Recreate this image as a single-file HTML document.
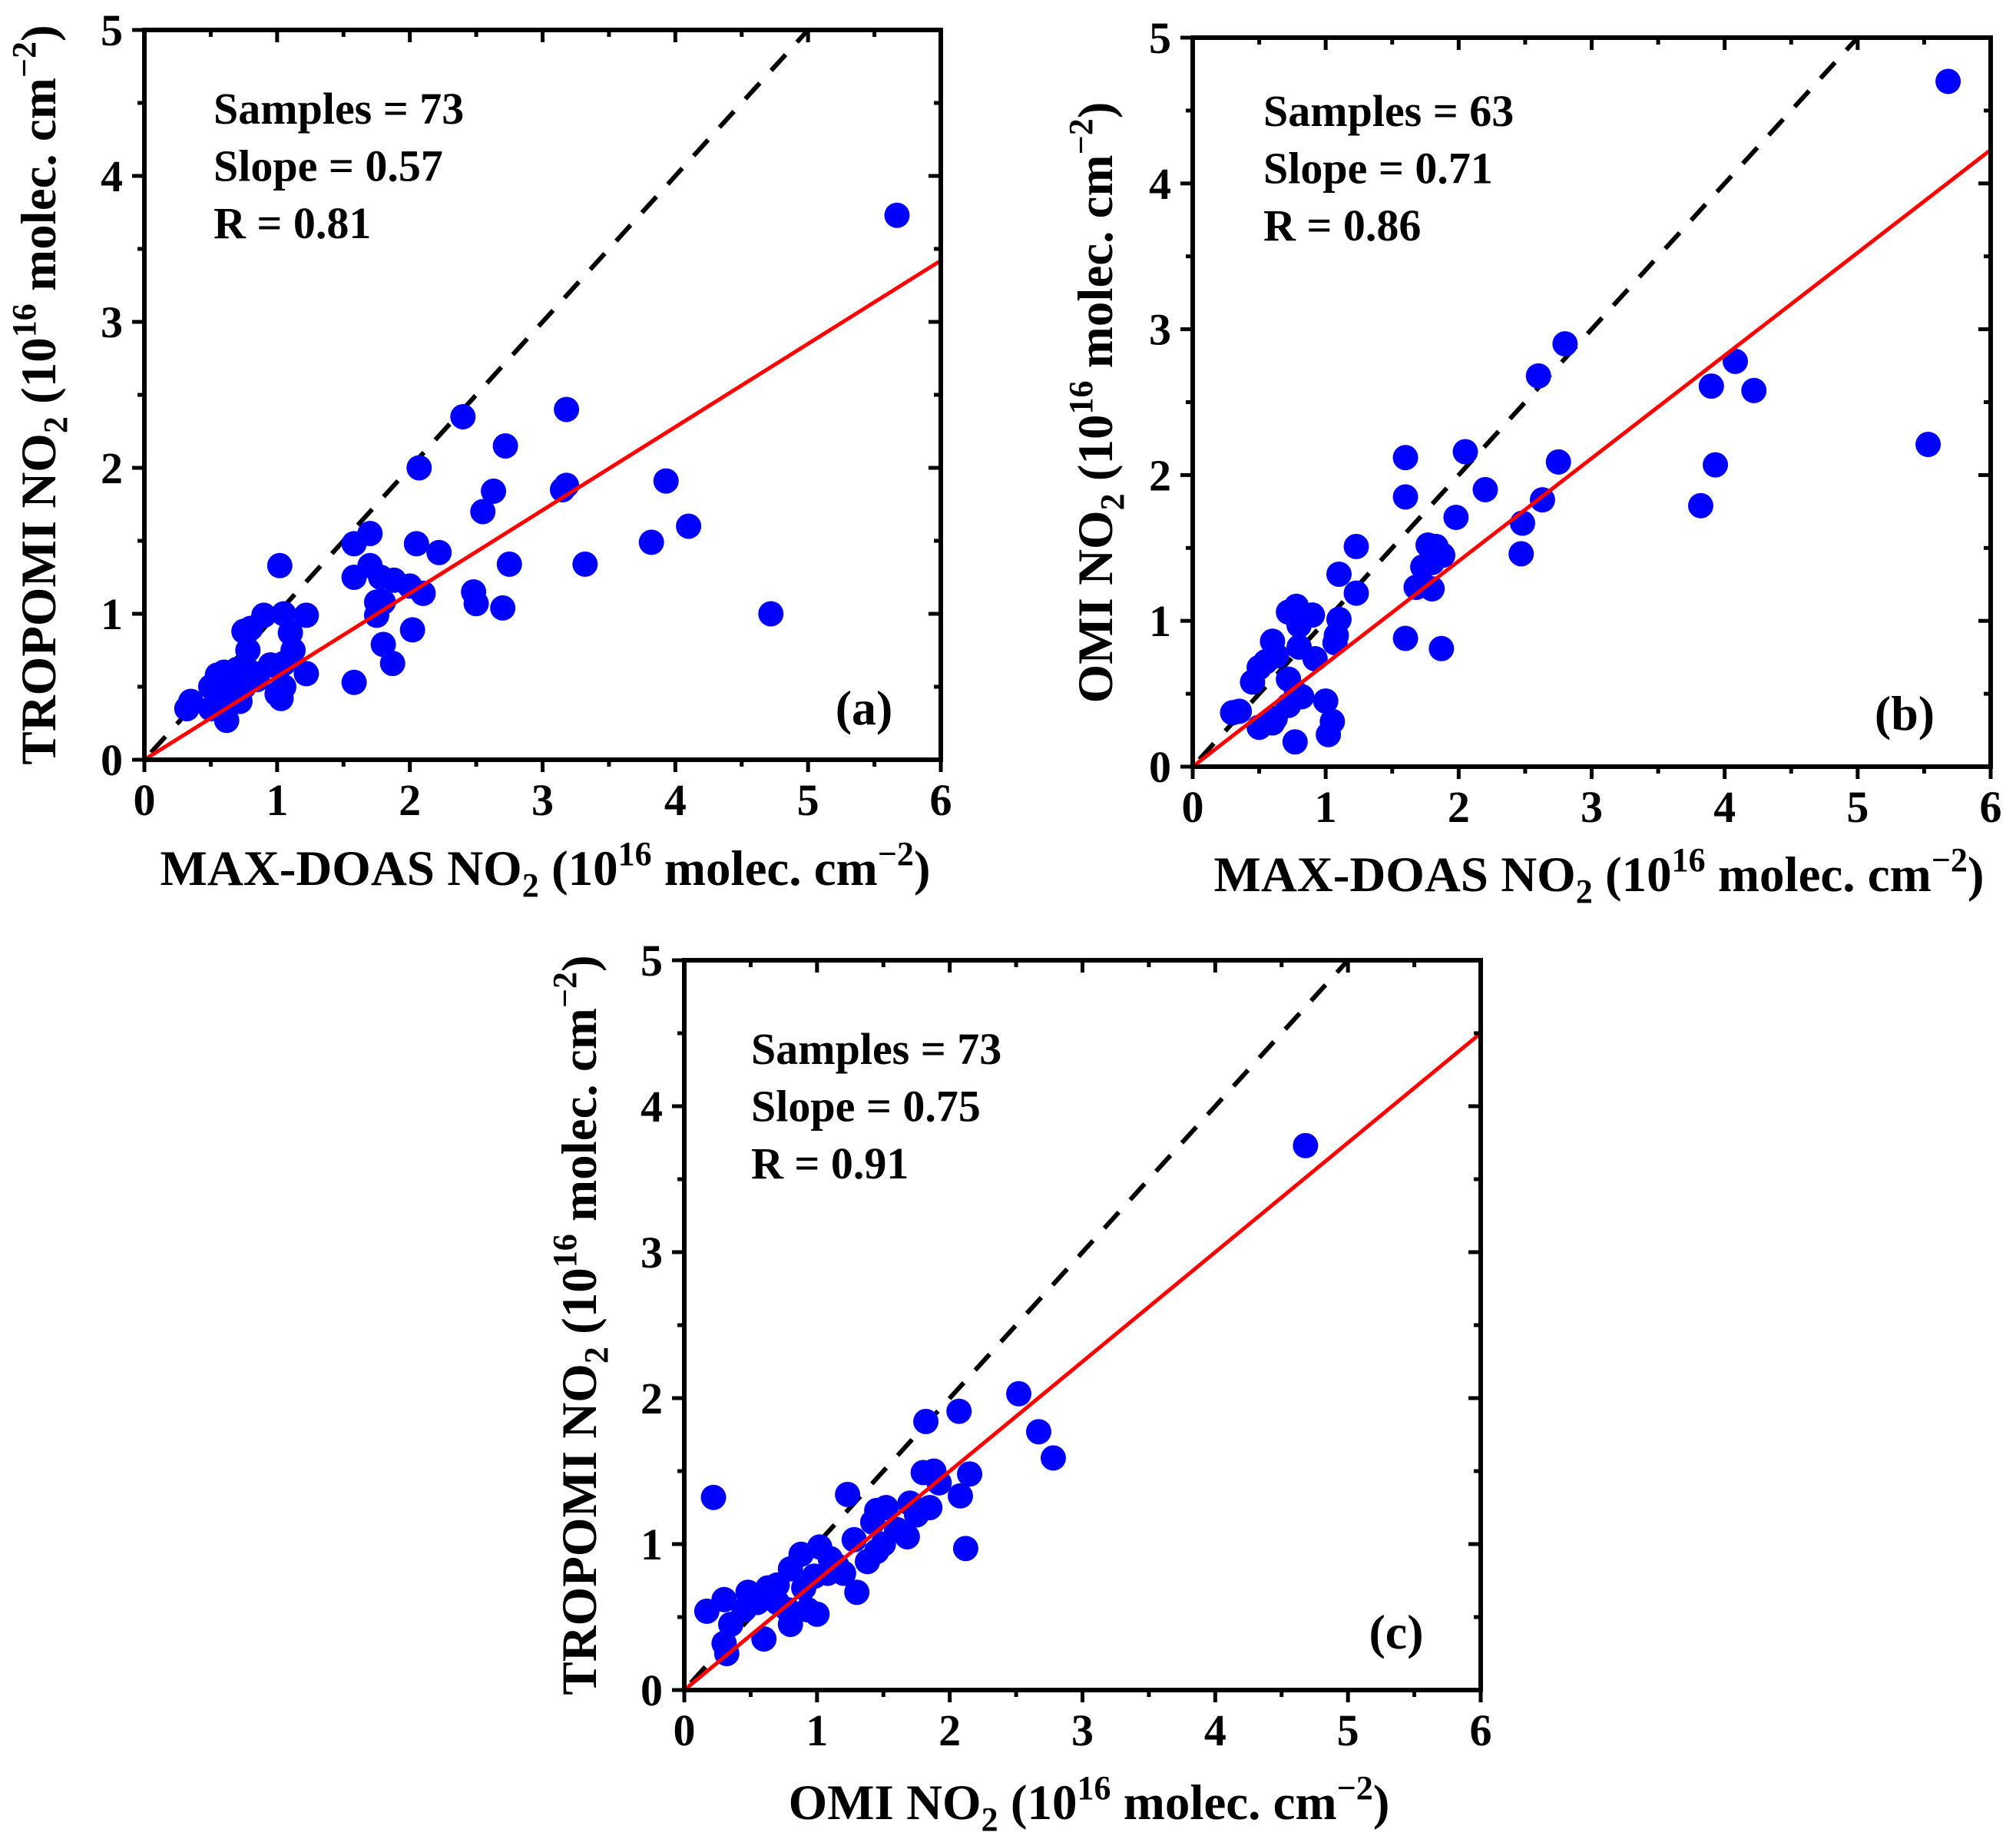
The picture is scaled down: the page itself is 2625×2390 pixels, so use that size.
<!DOCTYPE html>
<html><head><meta charset="utf-8"><style>
html,body{margin:0;padding:0;background:#fff;}
svg{display:block;font-family:"Liberation Serif",serif;font-weight:bold;}
</style></head><body>
<svg id="fig" width="2625" height="2390" viewBox="0 0 2625 2390" xmlns="http://www.w3.org/2000/svg"></svg>
<script>
// Panel (a): MAX-DOAS vs TROPOMI
const aX = [5.67,2.4,3.18,2.72,2.07,3.93,3.15,3.18,2.63,2.55,4.1,3.82,1.7,1.58,2.05,2.22,1.02,2.75,3.32,1.58,1.7,1.78,1.88,2.0,2.1,2.48,2.5,2.7,4.72,1.75,1.8,1.75,1.22,1.05,0.9,1.1,0.75,0.8,2.02,1.8,1.87,1.58,0.78,1.12,1.05,0.95,0.7,0.6,0.55,1.22,0.85,0.5,0.65,0.75,1.05,1.0,1.03,0.72,0.6,0.35,0.32,0.5,0.62,0.8,0.68];
const aY = [3.73,2.35,2.4,2.15,2.0,1.91,1.85,1.88,1.84,1.7,1.6,1.49,1.55,1.48,1.48,1.42,1.33,1.34,1.34,1.25,1.33,1.25,1.23,1.19,1.14,1.15,1.07,1.04,1.0,1.08,1.08,0.99,0.99,1.0,0.99,0.87,0.88,0.9,0.89,0.79,0.66,0.53,0.75,0.75,0.66,0.65,0.62,0.6,0.58,0.59,0.55,0.5,0.55,0.5,0.5,0.45,0.42,0.4,0.4,0.4,0.35,0.35,0.27,0.6,0.48];
// Panel (b): MAX-DOAS vs OMI
const bX = [5.68,2.8,2.6,4.08,3.9,4.22,5.53,2.05,1.6,2.75,3.93,2.2,1.6,2.63,3.82,1.98,2.48,1.23,1.77,1.83,2.47,1.88,1.8,1.73,1.1,1.23,1.68,1.8,0.78,0.72,0.9,1.1,0.8,1.08,1.6,0.6,1.07,1.87,0.8,0.55,0.63,0.92,0.5,0.72,0.45,0.78,0.82,1.0,0.72,0.35,0.3,0.62,1.05,0.5,0.6,1.02,0.77];
const bY = [4.7,2.9,2.68,2.78,2.61,2.58,2.21,2.16,2.12,2.09,2.07,1.9,1.85,1.83,1.79,1.71,1.67,1.51,1.52,1.51,1.46,1.45,1.4,1.37,1.32,1.19,1.23,1.22,1.1,1.06,1.04,1.01,0.97,0.9,0.88,0.86,0.85,0.81,0.82,0.72,0.76,0.74,0.68,0.6,0.58,0.5,0.48,0.45,0.42,0.38,0.37,0.33,0.31,0.27,0.3,0.22,0.17];
// Panel (c): OMI vs TROPOMI
const cX = [4.68,2.52,2.07,1.82,2.67,2.78,2.15,1.8,1.88,1.92,2.08,1.85,0.22,1.23,1.45,1.52,1.7,1.75,1.42,2.12,1.28,1.5,1.68,1.02,0.88,1.38,1.15,1.08,0.98,0.8,1.3,0.7,0.63,0.48,0.3,0.17,0.55,0.78,0.93,1.0,0.8,0.6,0.35,0.3,0.32,0.45,0.7,1.2,1.45,1.6,0.9,1.1];
const cY = [3.73,2.03,1.91,1.84,1.77,1.59,1.48,1.49,1.5,1.42,1.33,1.25,1.32,1.34,1.23,1.25,1.28,1.2,1.15,0.97,1.03,1.0,1.05,0.98,0.93,0.88,0.85,0.8,0.78,0.83,0.67,0.72,0.7,0.67,0.62,0.54,0.6,0.55,0.55,0.52,0.45,0.35,0.45,0.32,0.25,0.55,0.6,0.8,0.95,1.1,0.7,0.9];
const slopes = [0.57, 0.705, 0.75];
const xTicks = [0,1,2,3,4,5,6];
const yTicks = [0,1,2,3,4,5];
const statsA = ["Samples = 73","Slope = 0.57","R = 0.81"];
const statsB = ["Samples = 63","Slope = 0.71","R = 0.86"];
const statsC = ["Samples = 73","Slope = 0.75","R = 0.91"];

const NS="http://www.w3.org/2000/svg";
const svg=document.getElementById('fig');
function mk(tag,attrs,parent){const e=document.createElementNS(NS,tag);for(const k in attrs)e.setAttribute(k,attrs[k]);(parent||svg).appendChild(e);return e;}

const panels=[
 {id:'a',L:188,R:1225,T:39,B:989,xs:aX,ys:aY,slope:slopes[0],stats:statsA,tx:278,ty:161,lab:'(a)',labX:1125,labY:943,
  xt:'MAX-DOAS NO',xtX:710,xtY:1152,ytPre:'TROPOMI NO',ytX:72,ytY:514},
 {id:'b',L:1553,R:2592,T:49,B:998,xs:bX,ys:bY,slope:slopes[1],stats:statsB,tx:1645,ty:164,lab:'(b)',labX:2480,labY:950,
  xt:'MAX-DOAS NO',xtX:2082,xtY:1160,ytPre:'OMI NO',ytX:1448,ytY:524},
 {id:'c',L:891,R:1928,T:1250,B:2200,xs:cX,ys:cY,slope:slopes[2],stats:statsC,tx:978,ty:1385,lab:'(c)',labX:1818,labY:2146,
  xt:'OMI NO',xtX:1418,xtY:2368,ytPre:'TROPOMI NO',ytX:776,ytY:1725}
];

panels.forEach(p=>{
 const g=mk('g',{});
 
 
 const sx=v=>p.L+(p.R-p.L)*v/6;
 const sy=v=>p.B-(p.B-p.T)*v/5;
 const cp=mk('clipPath',{id:'clip'+p.id},g);
 mk('rect',{x:p.L,y:p.T,width:p.R-p.L,height:p.B-p.T},cp);
 const plot=mk('g',{'clip-path':'url(#clip'+p.id+')'},g);
 const d=mk('line',{x1:sx(0.05),y1:sy(0.05),x2:sx(5),y2:sy(5),stroke:'#000','stroke-width':6,'stroke-dasharray':'28 22'},plot);
 
 
 p.xs.forEach((x,i)=>{
  const c=mk('circle',{cx:sx(x),cy:sy(p.ys[i]),r:16.5,fill:'#0000ff'},plot);
  
  
 });
 const r=mk('line',{x1:sx(0),y1:sy(0),x2:sx(6),y2:sy(6*p.slope),stroke:'#ff0000','stroke-width':5},plot);
 
 
 const fr=mk('rect',{x:p.L,y:p.T,width:p.R-p.L,height:p.B-p.T,fill:'none',stroke:'#000','stroke-width':6},g);
 
 
 for(let v=0;v<=6;v+=0.5){
  const maj=Number.isInteger(v), len=maj?16:9;
  mk('line',{x1:sx(v),y1:p.B,x2:sx(v),y2:p.B+len,stroke:'#000','stroke-width':5},g);
  mk('line',{x1:sx(v),y1:p.T,x2:sx(v),y2:p.T+len,stroke:'#000','stroke-width':5},g);
 }
 for(let v=0;v<=5;v+=0.5){
  const maj=Number.isInteger(v), len=maj?16:9;
  mk('line',{x1:p.L-len,y1:sy(v),x2:p.L,y2:sy(v),stroke:'#000','stroke-width':5},g);
  mk('line',{x1:p.R-len,y1:sy(v),x2:p.R,y2:sy(v),stroke:'#000','stroke-width':5},g);
 }
 xTicks.forEach(v=>{
  const t=mk('text',{x:sx(v),y:p.B+72,'text-anchor':'middle','font-size':58},g);
  t.textContent=v;
  
  
 });
 yTicks.forEach(v=>{
  const t=mk('text',{x:p.L-28,y:sy(v)+20,'text-anchor':'end','font-size':58},g);
  t.textContent=v;
  
  
 });
 p.stats.forEach((s,i)=>{
  const t=mk('text',{x:p.tx,y:p.ty+i*74.5,'font-size':58},g);
  t.textContent=s;
  
  
 });
 const lb=mk('text',{x:p.labX,y:p.labY,'text-anchor':'middle','font-size':64},g);
 lb.textContent=p.lab;
 
 
 const title='<tspan font-size="44" dy="15">2</tspan><tspan dy="-15"> (10</tspan><tspan font-size="44" dy="-26">16</tspan><tspan dy="26"> molec. cm</tspan><tspan font-size="44" dy="-26">−2</tspan><tspan dy="26">)</tspan>';
 const xt=mk('text',{x:p.xtX,y:p.xtY,'text-anchor':'middle','font-size':65},g);
 xt.innerHTML='<tspan>'+p.xt+'</tspan>'+title;
 
 
 const yt=mk('text',{x:0,y:0,'text-anchor':'middle','font-size':65,transform:'translate('+p.ytX+','+p.ytY+') rotate(-90)'},g);
 yt.innerHTML='<tspan>'+p.ytPre+'</tspan>'+title;
 
 
});
</script>
</body></html>
